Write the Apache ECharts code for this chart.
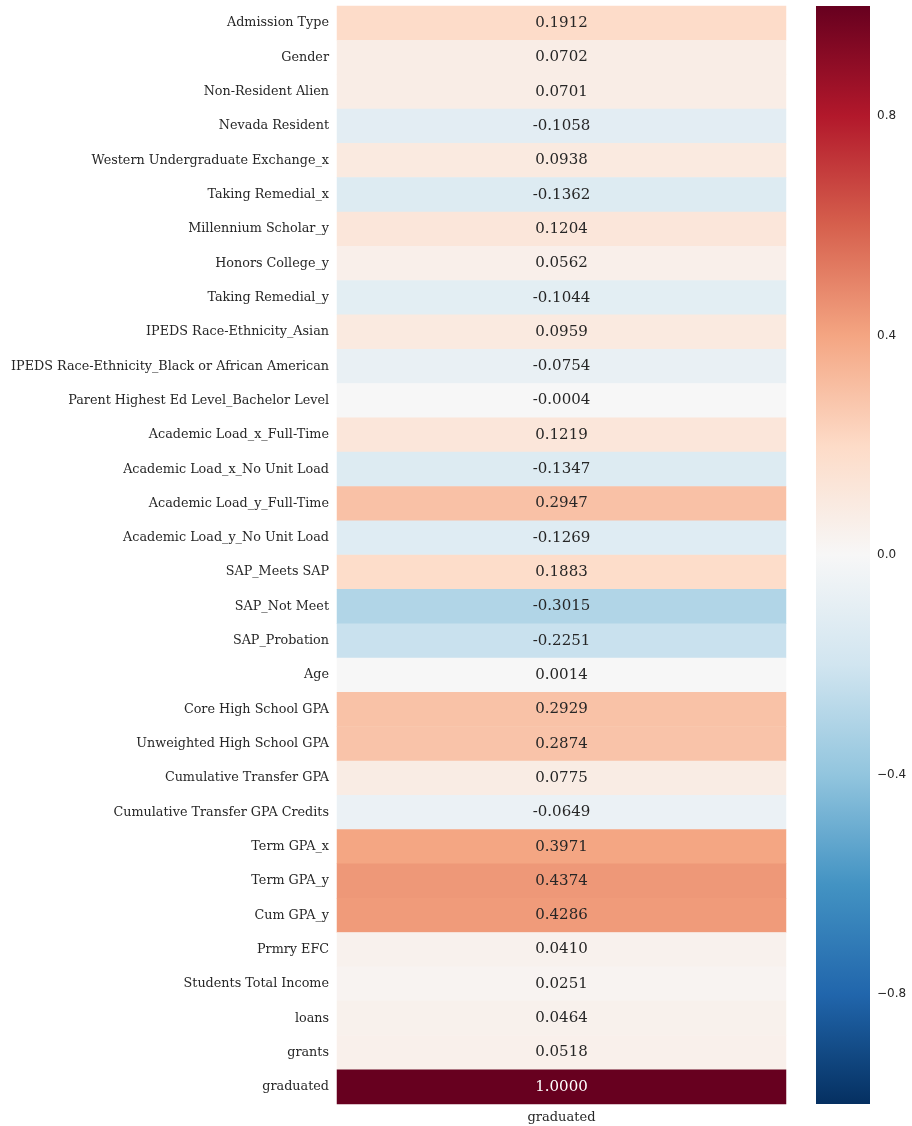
<!DOCTYPE html>
<html>
<head>
<meta charset="utf-8">
<script src="https://cdn.jsdelivr.net/npm/echarts@6/dist/echarts.min.js"></script>
<style>
  html, body { margin: 0; padding: 0; background: #ffffff; }
  #chart { width: 912px; height: 1126px; }
</style>
</head>
<body>
<div id="chart"></div>
<script>
// Correlation of each feature with "graduated"
const features = [
  'Admission Type', 'Gender', 'Non-Resident Alien', 'Nevada Resident',
  'Western Undergraduate Exchange_x', 'Taking Remedial_x', 'Millennium Scholar_y',
  'Honors College_y', 'Taking Remedial_y', 'IPEDS Race-Ethnicity_Asian',
  'IPEDS Race-Ethnicity_Black or African American', 'Parent Highest Ed Level_Bachelor Level',
  'Academic Load_x_Full-Time', 'Academic Load_x_No Unit Load', 'Academic Load_y_Full-Time',
  'Academic Load_y_No Unit Load', 'SAP_Meets SAP', 'SAP_Not Meet', 'SAP_Probation', 'Age',
  'Core High School GPA', 'Unweighted High School GPA', 'Cumulative Transfer GPA',
  'Cumulative Transfer GPA Credits', 'Term GPA_x', 'Term GPA_y', 'Cum GPA_y', 'Prmry EFC',
  'Students Total Income', 'loans', 'grants', 'graduated'
];
const columns = ['graduated'];
const corrGraduated = [
  0.1912, 0.0702, 0.0701, -0.1058, 0.0938, -0.1362, 0.1204, 0.0562, -0.1044, 0.0959,
  -0.0754, -0.0004, 0.1219, -0.1347, 0.2947, -0.1269, 0.1883, -0.3015, -0.2251, 0.0014,
  0.2929, 0.2874, 0.0775, -0.0649, 0.3971, 0.4374, 0.4286, 0.0410, 0.0251, 0.0464,
  0.0518, 1.0000
];
const colorbarTicks = [-0.8, -0.4, 0.0, 0.4, 0.8];
const colorRange = [-1, 1];

// RdBu reversed, low -> high
const rdBuR = ['#053061', '#2166ac', '#4393c3', '#92c5de', '#d1e5f0', '#f7f7f7',
               '#fddbc7', '#f4a582', '#d6604d', '#b2182b', '#67001f'];

const cells = corrGraduated.map((v, i) => ({
  value: [0, i, v],
  label: Math.abs(v) > 0.6 ? { color: '#ffffff' } : undefined
}));
const serif = 'DejaVu Serif';
const textColor = '#262626';

// gradient stops for the colour bar, top (max) to bottom (min)
const barStops = rdBuR.slice().reverse().map((c, i, a) => ({ offset: i / (a.length - 1), color: c }));

const chart = echarts.init(document.getElementById('chart'));
chart.setOption({
  animation: false,
  backgroundColor: '#ffffff',
  grid: [
    { left: 337, right: 126, top: 6, bottom: 22, containLabel: false },
    { left: 816, width: 54, top: 6, height: 1098, containLabel: false }
  ],
  xAxis: [
    {
      type: 'category', gridIndex: 0, data: columns,
      axisLine: { show: false }, axisTick: { show: false }, splitLine: { show: false },
      axisLabel: { fontFamily: serif, fontSize: 13, color: textColor, margin: 7 }
    },
    { type: 'value', gridIndex: 1, show: false, min: 0, max: 1 }
  ],
  yAxis: [
    {
      type: 'category', gridIndex: 0, data: features, inverse: true,
      axisLine: { show: false }, axisTick: { show: false }, splitLine: { show: false },
      axisLabel: { fontFamily: serif, fontSize: 12.75, color: textColor, margin: 8 }
    },
    {
      type: 'value', gridIndex: 1, min: colorRange[0], max: colorRange[1], position: 'right',
      axisLine: { show: false }, axisTick: { show: false }, splitLine: { show: false },
      axisLabel: {
        customValues: colorbarTicks,
        fontFamily: 'DejaVu Sans', fontSize: 12, color: textColor, margin: 7,
        formatter: v => (v < 0 ? '\u2212' : '') + Math.abs(v).toFixed(1)
      }
    }
  ],
  visualMap: {
    type: 'continuous', seriesIndex: 0, min: colorRange[0], max: colorRange[1],
    show: false,
    inRange: { color: rdBuR }
  },
  series: [
    {
      type: 'heatmap',
      xAxisIndex: 0, yAxisIndex: 0,
      data: cells,
      itemStyle: { borderWidth: 0 },
      label: {
        show: true, fontFamily: serif, fontSize: 15, color: textColor,
        formatter: p => p.value[2].toFixed(4)
      },
      emphasis: { disabled: true }
    },
    {
      // colour bar spanning the full value range
      type: 'custom',
      xAxisIndex: 1, yAxisIndex: 1,
      silent: true,
      data: [[0, 1, colorRange[1], colorRange[0]]],
      renderItem: (params, api) => {
        const tl = api.coord([api.value(0), api.value(2)]);
        const br = api.coord([api.value(1), api.value(3)]);
        return {
          type: 'rect',
          shape: { x: tl[0], y: tl[1], width: br[0] - tl[0], height: br[1] - tl[1] },
          style: { fill: new echarts.graphic.LinearGradient(0, 0, 0, 1, barStops) }
        };
      }
    }
  ]
});
</script>
</body>
</html>
